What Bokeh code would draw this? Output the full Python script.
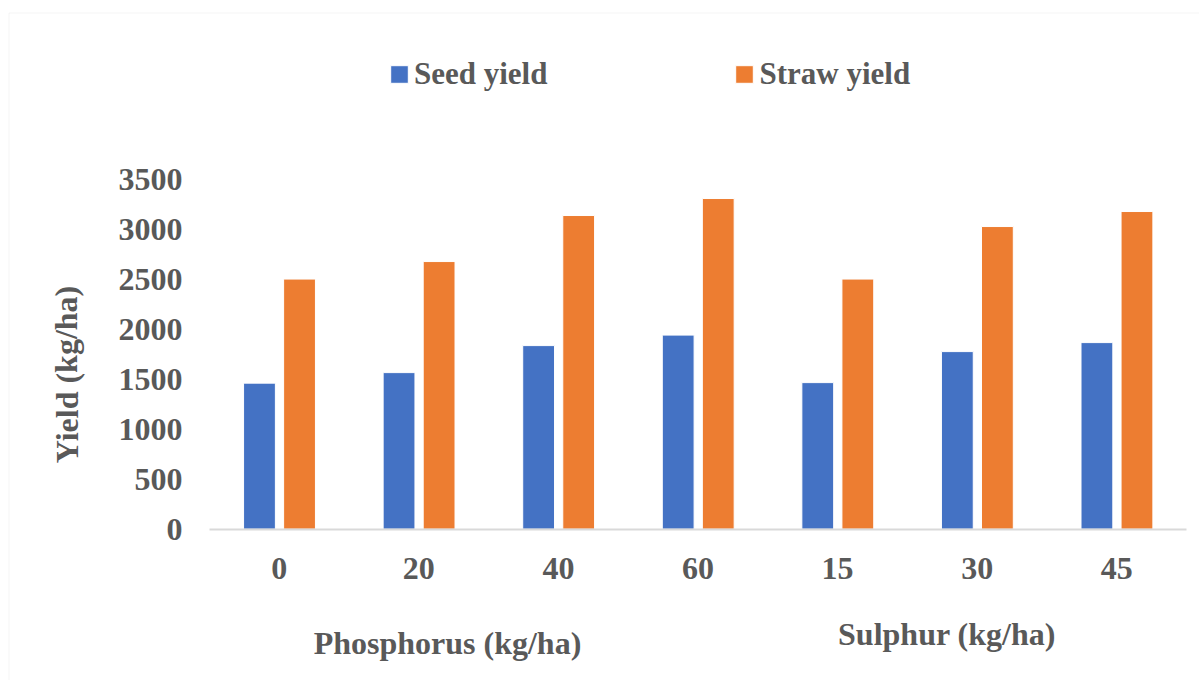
from bokeh.plotting import figure
from bokeh.models import (Range1d, FixedTicker, Legend, LegendItem,
                          Label, BoxAnnotation, ColumnDataSource)
from bokeh.transform import dodge
from bokeh.embed import file_html
from bokeh.resources import INLINE

# ---- data ----
categories = ["0", "20", "40", "60", "15", "30", "45"]
seed_yield = [1460, 1565, 1835, 1940, 1465, 1775, 1865]
straw_yield = [2500, 2675, 3135, 3305, 2500, 3025, 3175]
y_ticks = [0, 500, 1000, 1500, 2000, 2500, 3000, 3500]
series_names = ["Seed yield", "Straw yield"]
group_titles = ["Phosphorus (kg/ha)", "Sulphur (kg/ha)"]
y_title = "Yield (kg/ha)"

FONT = "Liberation Serif"
TXT = "#595959"
BLUE = "#4472C4"
ORANGE = "#ED7D31"

W, H = 1199, 680
n = len(categories)
centers = [i + 0.5 for i in range(n)]
src = ColumnDataSource(dict(xc=centers, seed=seed_yield, straw=straw_yield))

p = figure(width=W, height=H, x_range=Range1d(-1.4975, 7.093),
           y_range=Range1d(-1512, 5284), output_backend="svg", toolbar_location=None,
           min_border=0, background_fill_color="white", border_fill_color="white")
p.outline_line_color = None
p.xgrid.grid_line_color = None
p.ygrid.grid_line_color = None

r1 = p.vbar(x=dodge("xc", -0.142), top="seed", width=0.228, source=src,
            fill_color=BLUE, line_color="white", line_width=1)
r2 = p.vbar(x=dodge("xc", 0.145), top="straw", width=0.228, source=src,
            fill_color=ORANGE, line_color="white", line_width=1)

# axes placed at the data origin
ya = p.yaxis[0]
ya.fixed_location = 0
ya.bounds = (0, 3500)
ya.ticker = FixedTicker(ticks=y_ticks)
ya.axis_line_color = None
ya.major_tick_line_color = None
ya.minor_tick_line_color = None
ya.major_tick_out = 0
ya.major_tick_in = 0
ya.major_label_standoff = 27

xa = p.xaxis[0]
xa.fixed_location = 0
xa.bounds = (0, n)
xa.ticker = FixedTicker(ticks=centers)
xa.major_label_overrides = {c: lab for c, lab in zip(centers, categories)}
xa.axis_line_color = "#D9D9D9"
xa.axis_line_width = 2
xa.major_tick_line_color = None
xa.minor_tick_line_color = None
xa.major_tick_out = 0
xa.major_tick_in = 0
xa.major_label_standoff = 29

for ax in (xa, ya):
    ax.major_label_text_font = FONT
    ax.major_label_text_font_style = "bold"
    ax.major_label_text_font_size = "32px"
    ax.major_label_text_color = TXT

# legend
legend = Legend(items=[LegendItem(label=series_names[0], renderers=[r1]),
                       LegendItem(label=series_names[1], renderers=[r2])],
                orientation="horizontal", location=(388, 588),
                glyph_width=22, glyph_height=22, label_standoff=4, spacing=186,
                padding=0, margin=0, border_line_color=None, background_fill_alpha=0,
                label_text_font=FONT, label_text_font_style="bold",
                label_text_font_size="31px", label_text_color=TXT)
p.add_layout(legend, "center")

# axis titles
p.add_layout(Label(x=66, y=H - 374, x_units="screen", y_units="screen", text=y_title,
                   angle=1.5708, text_align="center", text_baseline="middle",
                   text_font=FONT, text_font_style="bold", text_font_size="32px",
                   text_color=TXT))
p.add_layout(Label(x=447, y=H - 642, x_units="screen", y_units="screen", text=group_titles[0],
                   text_align="center", text_baseline="middle",
                   text_font=FONT, text_font_style="bold", text_font_size="32px",
                   text_color=TXT))
p.add_layout(Label(x=946.5, y=H - 633, x_units="screen", y_units="screen", text=group_titles[1],
                   text_align="center", text_baseline="middle",
                   text_font=FONT, text_font_style="bold", text_font_size="32px",
                   text_color=TXT))

# chart border
p.add_layout(BoxAnnotation(left=8.5, right=3000, top=H - 12.5, bottom=-1000,
                           left_units="screen", right_units="screen",
                           top_units="screen", bottom_units="screen",
                           fill_alpha=0, line_color="#D9D9D9", line_width=1))

open("out.html", "w").write(file_html(p, INLINE))
